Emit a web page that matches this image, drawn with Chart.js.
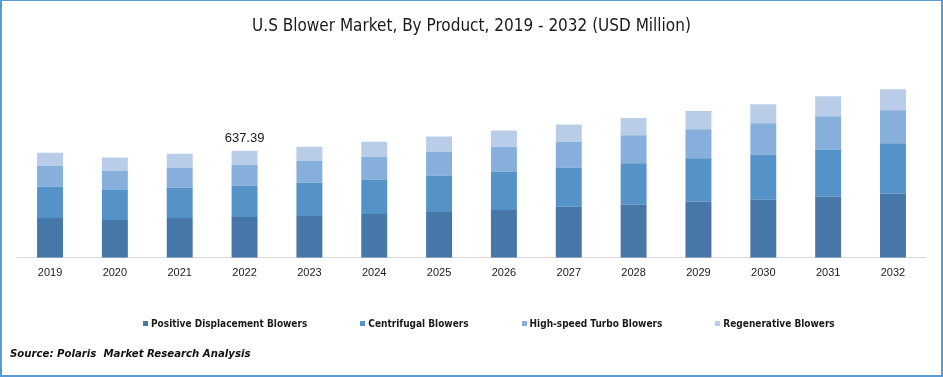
<!DOCTYPE html>
<html>
<head>
<meta charset="utf-8">
<script src="https://cdn.jsdelivr.net/npm/chart.js@4.4.1/dist/chart.umd.min.js"></script>
<style>
  html, body { margin: 0; padding: 0; background: #fff; }
  #frame {
    position: relative; width: 939px; height: 374px;
    border-top: 1px solid #5b9bd5; border-left: 2px solid #5b9bd5;
    border-right: 2px solid #5b9bd5; border-bottom: 2px solid #5b9bd5;
    overflow: hidden;
  }
  #wrap { position: absolute; left: -2px; top: -1px; width: 943px; height: 377px; }
  #legend {
    position: absolute; left: 141px; top: 317px; display: flex; gap: 53px;
    font-family: "DejaVu Sans Condensed", sans-serif;
    font-weight: bold; font-size: 10px; color: #1a1a1a;
  }
  #legend span.box { display: inline-block; width: 5px; height: 5px; margin-right: 3px; vertical-align: 1px; }
  #source {
    position: absolute; left: 8px; top: 346px;
    font-family: "DejaVu Sans Condensed", sans-serif;
    font-weight: bold; font-style: italic; font-size: 11.3px; color: #111;
  }
</style>
</head>
<body>
<div id="frame">
  <div id="wrap"><canvas id="myChart" width="943" height="377"></canvas></div>
  <div id="legend"></div>
  <div id="source">Source: Polaris&nbsp; Market Research Analysis</div>
</div>
<script>
const years = ['2019', '2020', '2021', '2022', '2023', '2024', '2025', '2026', '2027', '2028', '2029', '2030', '2031', '2032'];
const positiveDisplacement = [237, 225, 237, 243.2, 249, 261, 273, 285, 303, 317, 335, 346, 364, 382];
const centrifugal = [185, 179, 179, 185.3, 197, 203, 215, 227, 233, 245, 257, 269, 281, 299];
const highSpeedTurbo = [125, 114, 119, 125.1, 131, 137, 143, 149, 155, 167, 173, 185, 197, 197];
const regenerative = [78, 78, 84, 83.79, 84, 90, 90, 96, 102, 102, 108, 114, 119, 125];
const seriesNames = ['Positive Displacement Blowers', 'Centrifugal Blowers', 'High-speed Turbo Blowers', 'Regenerative Blowers'];
const seriesColors = ['#4677a8', '#5592c8', '#87afdc', '#b9cde9'];
const labelIndex = 3;
const labelText = '637.39';

const seriesData = [positiveDisplacement, centrifugal, highSpeedTurbo, regenerative];

// value label above the 2022 bar
const topLabel = {
  id: 'topLabel',
  afterDatasetsDraw(chart) {
    const meta = chart.getDatasetMeta(seriesData.length - 1);
    const bar = meta.data[labelIndex];
    const ctx = chart.ctx;
    ctx.save();
    ctx.font = '13px "Liberation Sans", Arial, sans-serif';
    ctx.fillStyle = '#1a1a1a';
    ctx.textAlign = 'center';
    ctx.textBaseline = 'middle';
    ctx.fillText(labelText, bar.x, bar.y - 12);
    ctx.restore();
  }
};

const ctx = document.getElementById('myChart').getContext('2d');
const myChart = new Chart(ctx, {
  type: 'bar',
  data: {
    labels: years,
    datasets: seriesData.map((d, i) => ({
      label: seriesNames[i],
      data: d,
      backgroundColor: seriesColors[i],
      borderWidth: 0,
      categoryPercentage: 1,
      barPercentage: 0.4
    }))
  },
  options: {
    responsive: false,
    animation: false,
    layout: { padding: { left: 17.6, right: 17.6, top: 0, bottom: 88 } },
    plugins: {
      legend: { display: false },
      tooltip: { enabled: false },
      title: {
        display: true,
        text: 'U.S Blower Market, By Product, 2019 - 2032 (USD Million)',
        color: '#1a1a1a',
        font: { family: '"DejaVu Sans Condensed", sans-serif', size: 17, weight: 'normal' },
        padding: { top: 16, bottom: 36.5 }
      }
    },
    scales: {
      x: {
        stacked: true,
        grid: { display: false, drawTicks: false },
        border: { display: true, color: '#d9d9d9', width: 1 },
        ticks: { color: '#1a1a1a', padding: 9, font: { family: '"Liberation Sans", Arial, sans-serif', size: 11 } }
      },
      y: {
        stacked: true,
        display: false,
        min: 0,
        max: 1100
      }
    }
  },
  plugins: [topLabel]
});

// html legend from the series arrays
const legend = document.getElementById('legend');
seriesNames.forEach((name, i) => {
  const item = document.createElement('div');
  item.innerHTML = '<span class="box" style="background:' + seriesColors[i] + '"></span>' + name;
  legend.appendChild(item);
});
</script>
</body>
</html>
